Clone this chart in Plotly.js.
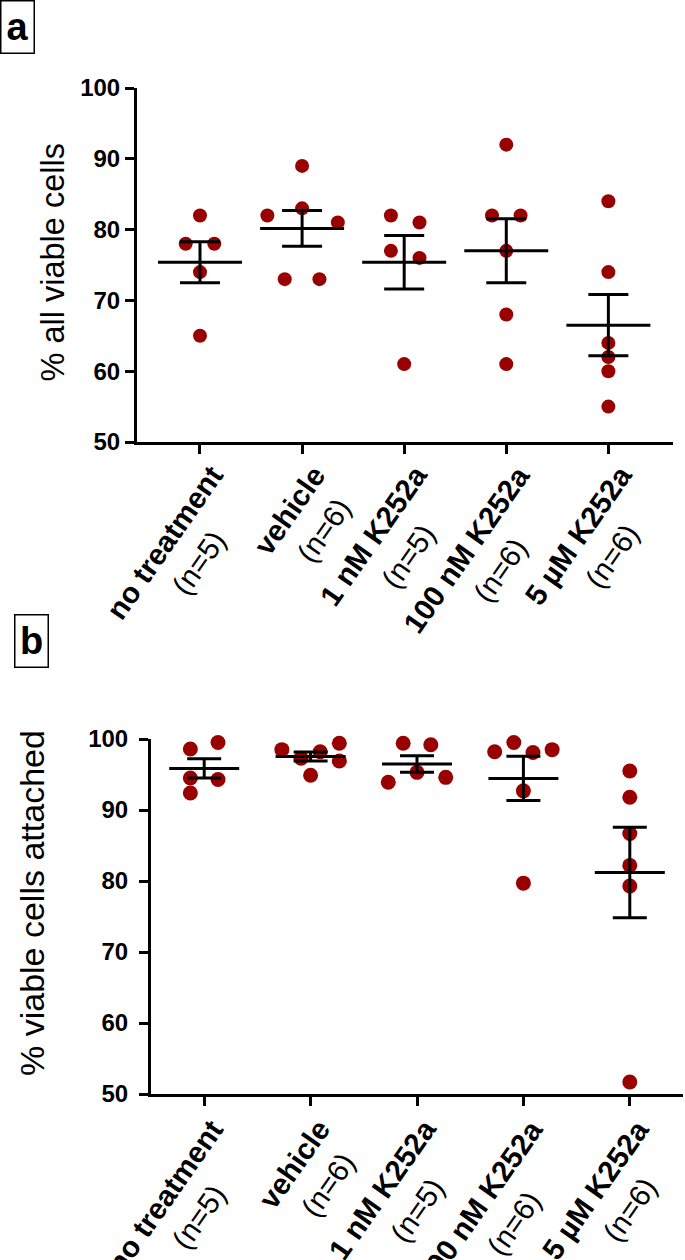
<!DOCTYPE html>
<html><head><meta charset="utf-8">
<script src="https://cdn.plot.ly/plotly-3.0.1.min.js"></script>
<style>html,body{margin:0;padding:0;background:#fff}</style>
</head><body><div id="chart" style="width:685px;height:1260px"></div>
<script>
// ---------- data ----------
const categories = ['no treatment', 'vehicle', '1 nM K252a', '100 nM K252a', '5 \u00b5M K252a'];
const yTicks = [50, 60, 70, 80, 90, 100];

// panel a: % all viable cells
const noTreatmentA = [82, 78, 78, 74, 65];
const vehicleA     = [89, 83, 82, 81, 73, 73];
const k252a1nMA    = [82, 81, 77, 76, 61];
const k252a100nMA  = [92, 82, 82, 77, 68, 61];
const k252a5uMA    = [84, 74, 64, 62, 60, 55];

// panel b: % viable cells attached
const noTreatmentB = [98.6, 99.5, 94.5, 94.3, 92.4];
const vehicleB     = [98.5, 99.4, 97.3, 98.2, 96.9, 94.9];
const k252a1nMB    = [99.4, 99.2, 95.3, 94.6, 93.9];
const k252a100nMB  = [98.2, 99.5, 98.1, 98.5, 92.7, 79.7];
const k252a5uMB    = [95.5, 91.8, 86.7, 82.2, 79.3, 51.7];

// horizontal spread of the dots inside each column (layout only, in column widths)
const spreadA = [[0,-0.14,0.14,0,0],[0,0,-0.34,0.35,-0.17,0.17],[-0.13,0.15,-0.13,0.15,0],[0,-0.14,0.14,0,0,0],[0,0,0,0,0,0]];
const spreadB = [[-0.13,0.13,-0.13,0.13,-0.13],[-0.27,0.27,-0.09,0.09,0.27,0],[-0.13,0.13,0,0.27,-0.27],[-0.27,-0.09,0.09,0.27,0,0],[0,0,0,0,0,0]];

// ---------- styling ----------
const FONT = '"Liberation Sans", Arial, sans-serif';
const DOT = '#990000';
const W = 685, H = 1260;
const LABEL_ANGLE = 55;
const LABEL_FS = 29.5;
const LINE_GAP = 40;     // distance between the two label lines
const LINE_SLIDE = 3;    // slide of the (n=..) line along the text direction
const LINE_EW_FACTOR = 1.4; // plotly draws line-ew 1.4x its size

const panels = [
  {groups:[noTreatmentA, vehicleA, k252a1nMA, k252a100nMA, k252a5uMA], spread:spreadA,
   left:137, right:673, top:88, bottom:442, range:[-0.617, 4.633], dot:14, meanW:84, capW:20,
   tickFs:24, standoff:0, title:'% all viable cells', titleX:52.5, titleY:263, titleFs:32.5,
   tag:'a', tagX:17, tagY:27, bx:24, by:33},
  {groups:[noTreatmentB, vehicleB, k252a1nMB, k252a100nMB, k252a5uMB], spread:spreadB,
   left:151, right:683, top:739, bottom:1094, range:[-0.5, 4.5], dot:15, meanW:70, capW:17,
   tickFs:24, standoff:6, title:'% viable cells attached', titleX:32, titleY:903, titleFs:34,
   tag:'b', tagX:31.5, tagY:641, bx:20, by:35}
];

const mean = a => a.reduce((s, v) => s + v, 0) / a.length;
const sem = a => { const m = mean(a); return Math.sqrt(a.reduce((s, v) => s + (v - m) ** 2, 0) / (a.length - 1)) / Math.sqrt(a.length); };

const ctx = document.createElement('canvas').getContext('2d');
function textW(t, weight, size) { ctx.font = weight + ' ' + size + 'px "Liberation Sans"'; return ctx.measureText(t).width; }

const traces = [];
const layout = {
  width: W, height: H, margin: {l:0, r:0, t:0, b:0}, autosize: false,
  paper_bgcolor: '#fff', plot_bgcolor: '#fff', showlegend: false,
  font: {family: FONT, color: '#000'}, annotations: []
};

const th = -LABEL_ANGLE * Math.PI / 180;
const rot = (x, y) => [x * Math.cos(th) - y * Math.sin(th), x * Math.sin(th) + y * Math.cos(th)];

panels.forEach((p, k) => {
  const xa = k === 0 ? 'x' : 'x2', ya = k === 0 ? 'y' : 'y2';
  const xKey = k === 0 ? 'xaxis' : 'xaxis2', yKey = k === 0 ? 'yaxis' : 'yaxis2';
  const xs = [], ys = [];
  p.groups.forEach((g, i) => g.forEach((v, j) => { xs.push(i + p.spread[i][j]); ys.push(v); }));
  traces.push({type:'scatter', mode:'markers', x:xs, y:ys, xaxis:xa, yaxis:ya, cliponaxis:false,
    marker:{color:DOT, size:p.dot, line:{width:0}}, hoverinfo:'skip'});
  traces.push({type:'scatter', mode:'markers', x:p.groups.map((g, i) => i), y:p.groups.map(mean),
    xaxis:xa, yaxis:ya, cliponaxis:false,
    marker:{symbol:'line-ew', size:p.meanW / LINE_EW_FACTOR, color:'#000', line:{width:3, color:'#000'}},
    error_y:{type:'data', array:p.groups.map(sem), visible:true, color:'#000', thickness:3, width:p.capW}});
  layout[xKey] = {domain:[p.left / W, p.right / W], range:p.range, anchor:ya,
    tickvals:[0,1,2,3,4], showticklabels:false, ticks:'outside', ticklen:9, tickwidth:3, tickcolor:'#000',
    showline:true, linewidth:3, linecolor:'#000', showgrid:false, zeroline:false, fixedrange:true};
  layout[yKey] = {domain:[1 - p.bottom / H, 1 - p.top / H], range:[50, 100], anchor:xa,
    tickvals:yTicks, ticktext:yTicks.map(v => '<b>' + v + '</b>'),
    ticks:'outside', ticklen:9, tickwidth:3, tickcolor:'#000', ticklabelstandoff:p.standoff,
    tickfont:{family:FONT, size:p.tickFs, color:'#000'},
    showline:true, linewidth:3, linecolor:'#000', showgrid:false, zeroline:false, fixedrange:true};

  // axis title
  layout.annotations.push({xref:'paper', yref:'paper', x:p.titleX / W, y:1 - p.titleY / H,
    text:p.title, textangle:-90, showarrow:false, xanchor:'center', yanchor:'middle',
    font:{family:FONT, size:p.titleFs, color:'#000'}});
  // panel tag
  layout.annotations.push({xref:'paper', yref:'paper', x:p.tagX / W, y:1 - p.tagY / H,
    text:'<b>' + p.tag + '</b>', showarrow:false, xanchor:'center', yanchor:'middle',
    width:26, height:45, borderpad:3, bordercolor:'#000', borderwidth:1.5, bgcolor:'#fff',
    font:{family:FONT, size:38, color:'#000'}});
  // category labels: bold name, with (n=..) centered on the next line, rotated
  categories.forEach((c, i) => {
    const nTxt = '(n=' + p.groups[i].length + ')';
    const w1 = textW(c, 'bold', LABEL_FS);
    const r1 = rot(w1 / 2, 0.3465 * LABEL_FS);
    const c1 = [p.bx - r1[0], p.by - r1[1]];
    const d2 = rot(LINE_SLIDE, LINE_GAP);
    const c2 = [c1[0] + d2[0], c1[1] + d2[1]];
    const base = {xref:xa, yref:'paper', x:i, y:1 - p.bottom / H, textangle:-LABEL_ANGLE,
      showarrow:false, xanchor:'center', yanchor:'middle', font:{family:FONT, size:LABEL_FS, color:'#000'}};
    layout.annotations.push(Object.assign({}, base, {text:'<b>' + c + '</b>', xshift:c1[0], yshift:-c1[1]}));
    layout.annotations.push(Object.assign({}, base, {text:nTxt, xshift:c2[0], yshift:-c2[1]}));
  });
});

Plotly.newPlot('chart', traces, layout, {staticPlot:true, displayModeBar:false});
</script></body></html>
